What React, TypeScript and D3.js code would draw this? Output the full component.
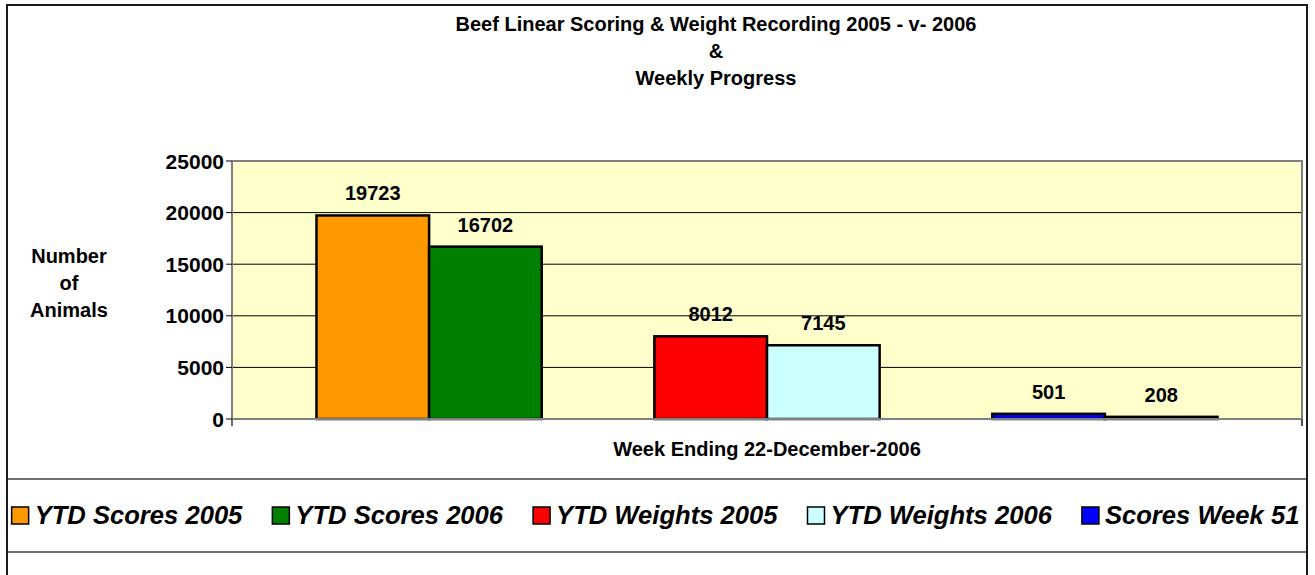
import React, { useEffect, useRef } from "react";
import * as d3 from "d3";

const TITLE_LINES = ["Beef Linear Scoring & Weight Recording 2005 - v- 2006", "&", "Weekly Progress"];
const CATEGORY = "Week Ending 22-December-2006";
const Y_LABEL_LINES = ["Number", "of", "Animals"];
const SERIES_NAMES = [
  "YTD Scores 2005",
  "YTD Scores 2006",
  "YTD Weights 2005",
  "YTD Weights 2006",
  "Scores Week 51",
  "Scores Week 51 2006",
];
const SERIES_VALUES = [19723, 16702, 8012, 7145, 501, 208];
const SERIES_COLORS = ["#FF9900", "#008000", "#FF0000", "#CCFFFF", "#0000FF", "#000000"];
const SLOT_ORDER = [
  "YTD Scores 2005",
  "YTD Scores 2006",
  "(empty 1)",
  "YTD Weights 2005",
  "YTD Weights 2006",
  "(empty 2)",
  "Scores Week 51",
  "Scores Week 51 2006",
];
const LEGEND_SERIES = SERIES_NAMES.slice(0, 5);
const Y_TICKS = [0, 5000, 10000, 15000, 20000, 25000];
const Y_MAX = 25000;

const W = 1315;
const H = 575;
const FONT = "'Liberation Sans', Arial, Helvetica, sans-serif";

export default function App() {
  const ref = useRef<SVGSVGElement | null>(null);

  useEffect(() => {
    const svg = d3.select(ref.current);
    svg.selectAll("*").remove();

    const plot = { left: 232, right: 1302, top: 161, bottom: 419 };

    const y = d3.scaleLinear().domain([0, Y_MAX]).range([plot.bottom, plot.top]);
    const x0 = d3.scaleBand<string>().domain([CATEGORY]).range([plot.left, plot.right]);
    const x1 = d3
      .scaleBand<string>()
      .domain(SLOT_ORDER)
      .range([0, x0.bandwidth()])
      .paddingInner(0)
      .paddingOuter(0.75);

    svg.append("rect").attr("width", W).attr("height", H).attr("fill", "#ffffff");

    // outer frame
    svg
      .append("rect")
      .attr("x", 7)
      .attr("y", 5)
      .attr("width", 1300)
      .attr("height", 620)
      .attr("fill", "none")
      .attr("stroke", "#1a1a1a")
      .attr("stroke-width", 2);

    // legend separators
    [479, 552].forEach((yy) => {
      svg
        .append("line")
        .attr("x1", 8)
        .attr("x2", 1306)
        .attr("y1", yy)
        .attr("y2", yy)
        .attr("stroke", "#707070")
        .attr("stroke-width", 2);
    });

    // title
    const title = svg
      .append("text")
      .attr("font-family", FONT)
      .attr("font-weight", "bold")
      .attr("font-size", 20)
      .attr("text-anchor", "middle")
      .attr("fill", "#000");
    TITLE_LINES.forEach((t, i) => {
      title.append("tspan").attr("x", 716).attr("y", 31 + i * 27).text(t);
    });

    // plot background
    svg
      .append("rect")
      .attr("x", plot.left)
      .attr("y", plot.top)
      .attr("width", plot.right - plot.left)
      .attr("height", plot.bottom - plot.top)
      .attr("fill", "#FFFFCC");

    // gridlines
    svg
      .append("g")
      .selectAll("line")
      .data(Y_TICKS.filter((t) => t > 0 && t < Y_MAX))
      .join("line")
      .attr("x1", plot.left)
      .attr("x2", plot.right)
      .attr("y1", (d) => y(d))
      .attr("y2", (d) => y(d))
      .attr("stroke", "#000")
      .attr("stroke-width", 1);

    // plot border top/right
    svg
      .append("path")
      .attr("d", `M${plot.left},${y(Y_MAX)}H${plot.right}V${plot.bottom + 7}`)
      .attr("fill", "none")
      .attr("stroke", "#808080")
      .attr("stroke-width", 2);

    // bars
    const g = svg.append("g").attr("transform", `translate(${x0(CATEGORY)},0)`);
    const barData = SERIES_NAMES.map((name, i) => ({
      name,
      value: SERIES_VALUES[i],
      color: SERIES_COLORS[i],
    }));
    g.selectAll("rect.bar")
      .data(barData)
      .join("rect")
      .attr("class", "bar")
      .attr("x", (d) => x1(d.name)!)
      .attr("y", (d) => y(d.value))
      .attr("width", x1.bandwidth())
      .attr("height", (d) => y(0) - y(d.value))
      .attr("fill", (d) => d.color)
      .attr("stroke", "#000")
      .attr("stroke-width", 2.5);

    g.selectAll("text.lbl")
      .data(barData)
      .join("text")
      .attr("class", "lbl")
      .attr("x", (d) => x1(d.name)! + x1.bandwidth() / 2)
      .attr("y", (d) => y(d.value) - 15)
      .attr("text-anchor", "middle")
      .attr("font-family", FONT)
      .attr("font-weight", "bold")
      .attr("font-size", 20)
      .attr("fill", "#000")
      .text((d) => String(d.value));

    // x axis line
    svg
      .append("line")
      .attr("x1", plot.left)
      .attr("x2", plot.right)
      .attr("y1", y(0))
      .attr("y2", y(0))
      .attr("stroke", "#808080")
      .attr("stroke-width", 2);
    // category boundary ticks
    [plot.left, plot.right].forEach((xx) => {
      svg
        .append("line")
        .attr("x1", xx)
        .attr("x2", xx)
        .attr("y1", y(0))
        .attr("y2", y(0) + 7)
        .attr("stroke", "#404040")
        .attr("stroke-width", 1.5);
    });

    // y axis
    svg
      .append("line")
      .attr("x1", plot.left)
      .attr("x2", plot.left)
      .attr("y1", plot.top)
      .attr("y2", plot.bottom)
      .attr("stroke", "#808080")
      .attr("stroke-width", 2);
    const yt = svg.append("g");
    yt.selectAll("line")
      .data(Y_TICKS)
      .join("line")
      .attr("x1", plot.left - 6)
      .attr("x2", plot.left)
      .attr("y1", (d) => y(d))
      .attr("y2", (d) => y(d))
      .attr("stroke", "#000")
      .attr("stroke-width", 1);
    yt.selectAll("text")
      .data(Y_TICKS)
      .join("text")
      .attr("x", plot.left - 8)
      .attr("y", (d) => y(d))
      .attr("dy", "0.36em")
      .attr("text-anchor", "end")
      .attr("font-family", FONT)
      .attr("font-weight", "bold")
      .attr("font-size", 21)
      .attr("fill", "#000")
      .text((d) => String(d));

    // y axis title
    const yl = svg
      .append("text")
      .attr("font-family", FONT)
      .attr("font-weight", "bold")
      .attr("font-size", 20)
      .attr("text-anchor", "middle")
      .attr("fill", "#000");
    Y_LABEL_LINES.forEach((t, i) => {
      yl.append("tspan").attr("x", 69).attr("y", 263 + i * 27).text(t);
    });

    // x axis title
    svg
      .append("text")
      .attr("x", (plot.left + plot.right) / 2)
      .attr("y", 456)
      .attr("text-anchor", "middle")
      .attr("font-family", FONT)
      .attr("font-weight", "bold")
      .attr("font-size", 20)
      .attr("fill", "#000")
      .text(CATEGORY);

    // legend
    const lg = svg.append("g");
    const sq = 17;
    const gapText = 6;
    const gapItem = 30;
    const items = LEGEND_SERIES.map((name) => {
      const idx = SERIES_NAMES.indexOf(name);
      const it = lg.append("g");
      it.append("rect")
        .attr("y", 507)
        .attr("width", sq)
        .attr("height", sq)
        .attr("fill", SERIES_COLORS[idx])
        .attr("stroke", "#000")
        .attr("stroke-width", 1.5);
      const tx = it
        .append("text")
        .attr("x", sq + gapText)
        .attr("y", 524)
        .attr("font-family", FONT)
        .attr("font-weight", "bold")
        .attr("font-style", "italic")
        .attr("font-size", 25.6)
        .attr("fill", "#000")
        .text(name);
      const w = (tx.node() as SVGTextElement).getComputedTextLength();
      return { it, w: sq + gapText + w };
    });
    const total = d3.sum(items, (d) => d.w) + gapItem * (items.length - 1);
    let cx = 655.5 - total / 2;
    items.forEach((d) => {
      d.it.attr("transform", `translate(${cx},0)`);
      cx += d.w + gapItem;
    });
  }, []);

  return (
    <svg
      ref={ref}
      width={W}
      height={H}
      style={{ position: "absolute", left: 0, top: 0, display: "block" }}
    />
  );
}
